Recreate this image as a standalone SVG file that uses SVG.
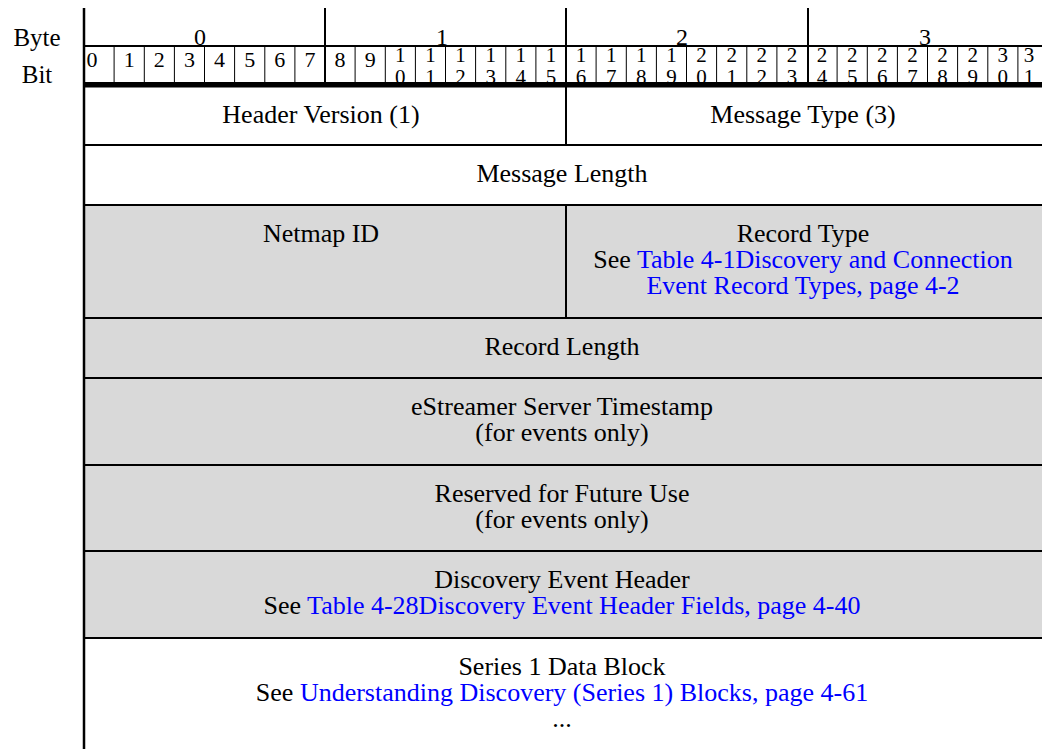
<svg xmlns="http://www.w3.org/2000/svg" width="1042" height="749" viewBox="0 0 1042 749">
<style>
.t{font-family:"Liberation Serif","Times New Roman",serif;font-size:26px;fill:#000;text-anchor:middle}
.lk{fill:#0000ff}
.hd{font-family:"Liberation Serif","Times New Roman",serif;font-size:25px;fill:#000;text-anchor:middle}
.bn{font-family:"Liberation Serif","Times New Roman",serif;font-size:24px;fill:#000;text-anchor:middle}
.b1{font-family:"Liberation Serif","Times New Roman",serif;font-size:22px;fill:#000;text-anchor:middle}
.b2{font-family:"Liberation Serif","Times New Roman",serif;font-size:21px;fill:#000;text-anchor:middle}
.thin{stroke:#000;stroke-width:1;fill:none}
.thick{stroke:#000;stroke-width:2;fill:none}
.gray{fill:#d9d9d9}
.white{fill:#fff}
</style>
<rect x="0" y="0" width="1042" height="749" fill="#fff"/>

<g id="labels">
<text class="hd" x="37" y="46">Byte</text>
<text class="hd" x="37" y="83">Bit</text>
</g>

<g id="byte-header">
<text class="bn" x="200" y="45">0</text>
<text class="bn" x="442" y="45">1</text>
<text class="bn" x="682" y="45">2</text>
<text class="bn" x="925" y="45">3</text>
</g>

<g id="bit-header">
<text class="b1" x="92" y="67">0</text>
<text class="b1" x="129.2" y="67">1</text>
<text class="b1" x="159.3" y="67">2</text>
<text class="b1" x="189.4" y="67">3</text>
<text class="b1" x="219.6" y="67">4</text>
<text class="b1" x="249.7" y="67">5</text>
<text class="b1" x="279.8" y="67">6</text>
<text class="b1" x="309.9" y="67">7</text>
<text class="b1" x="340.1" y="67">8</text>
<text class="b1" x="370.2" y="67">9</text>
<text class="b2" x="400.3" y="62">1</text><text class="b2" x="400.3" y="84">0</text>
<text class="b2" x="430.4" y="62">1</text><text class="b2" x="430.4" y="84">1</text>
<text class="b2" x="460.6" y="62">1</text><text class="b2" x="460.6" y="84">2</text>
<text class="b2" x="490.7" y="62">1</text><text class="b2" x="490.7" y="84">3</text>
<text class="b2" x="520.8" y="62">1</text><text class="b2" x="520.8" y="84">4</text>
<text class="b2" x="550.9" y="62">1</text><text class="b2" x="550.9" y="84">5</text>
<text class="b2" x="581.1" y="62">1</text><text class="b2" x="581.1" y="84">6</text>
<text class="b2" x="611.2" y="62">1</text><text class="b2" x="611.2" y="84">7</text>
<text class="b2" x="641.3" y="62">1</text><text class="b2" x="641.3" y="84">8</text>
<text class="b2" x="671.4" y="62">1</text><text class="b2" x="671.4" y="84">9</text>
<text class="b2" x="701.6" y="62">2</text><text class="b2" x="701.6" y="84">0</text>
<text class="b2" x="731.7" y="62">2</text><text class="b2" x="731.7" y="84">1</text>
<text class="b2" x="761.8" y="62">2</text><text class="b2" x="761.8" y="84">2</text>
<text class="b2" x="791.9" y="62">2</text><text class="b2" x="791.9" y="84">3</text>
<text class="b2" x="822.1" y="62">2</text><text class="b2" x="822.1" y="84">4</text>
<text class="b2" x="852.2" y="62">2</text><text class="b2" x="852.2" y="84">5</text>
<text class="b2" x="882.3" y="62">2</text><text class="b2" x="882.3" y="84">6</text>
<text class="b2" x="912.4" y="62">2</text><text class="b2" x="912.4" y="84">7</text>
<text class="b2" x="942.6" y="62">2</text><text class="b2" x="942.6" y="84">8</text>
<text class="b2" x="972.7" y="62">2</text><text class="b2" x="972.7" y="84">9</text>
<text class="b2" x="1002.8" y="62">3</text><text class="b2" x="1002.8" y="84">0</text>
<text class="b2" x="1029" y="62">3</text><text class="b2" x="1029" y="84">1</text>
</g>

<g id="header-version">
<rect class="white" x="84" y="87" width="482" height="58"/>
<text class="t" x="321" y="123">Header Version (1)</text>
</g>
<g id="message-type">
<rect class="white" x="566" y="87" width="476" height="58"/>
<text class="t" x="803" y="123">Message Type (3)</text>
</g>
<g id="message-length">
<rect class="white" x="84" y="145" width="958" height="60"/>
<text class="t" x="562" y="182">Message Length</text>
</g>
<g id="netmap-id">
<rect class="gray" x="84" y="205" width="482" height="113"/>
<text class="t" x="321" y="242">Netmap ID</text>
</g>
<g id="record-type">
<rect class="gray" x="566" y="205" width="476" height="113"/>
<text class="t" x="803" y="242">Record Type</text>
<text class="t" x="803" y="268">See <tspan class="lk">Table 4-1Discovery and Connection</tspan></text>
<text class="t lk" x="803" y="294">Event Record Types, page 4-2</text>
</g>
<g id="record-length">
<rect class="gray" x="84" y="318" width="958" height="60"/>
<text class="t" x="562" y="355">Record Length</text>
</g>
<g id="timestamp">
<rect class="gray" x="84" y="378" width="958" height="87"/>
<text class="t" x="562" y="415">eStreamer Server Timestamp</text>
<text class="t" x="562" y="441">(for events only)</text>
</g>
<g id="reserved">
<rect class="gray" x="84" y="465" width="958" height="86"/>
<text class="t" x="562" y="502">Reserved for Future Use</text>
<text class="t" x="562" y="528">(for events only)</text>
</g>
<g id="discovery-event-header">
<rect class="gray" x="84" y="551" width="958" height="87"/>
<text class="t" x="562" y="588">Discovery Event Header</text>
<text class="t" x="562" y="614">See <tspan class="lk">Table 4-28Discovery Event Header Fields, page 4-40</tspan></text>
</g>
<g id="series1-data-block">
<rect class="white" x="84" y="638" width="958" height="111"/>
<text class="t" x="562" y="675">Series 1 Data Block</text>
<text class="t" x="562" y="701">See <tspan class="lk">Understanding Discovery (Series 1) Blocks, page 4-61</tspan></text>
<text class="t" x="562" y="727">...</text>
</g>

<g id="grid">
<path class="thin" d="M114.1 46V82M144.3 46V82M174.4 46V82M204.5 46V82M234.6 46V82M264.8 46V82M294.9 46V82M355.1 46V82M385.3 46V82M415.4 46V82M445.5 46V82M475.6 46V82M505.8 46V82M535.9 46V82M596.1 46V82M626.3 46V82M656.4 46V82M686.5 46V82M716.6 46V82M746.8 46V82M776.9 46V82M837.1 46V82M867.3 46V82M897.4 46V82M927.5 46V82M957.6 46V82M987.8 46V82M1017.9 46V82"/>
<path class="thick" d="M84 46H1042M325 8V84M566 8V145M808 8V84"/>
<rect x="84" y="82" width="958" height="5.5" fill="#000"/>
<path class="thick" d="M84 145H1042M84 205H1042M84 318H1042M84 378H1042M84 465H1042M84 551H1042M84 638H1042M566 205V318"/>
<path d="M84 8V749" stroke="#000" stroke-width="2.5" fill="none"/>
</g>
</svg>
